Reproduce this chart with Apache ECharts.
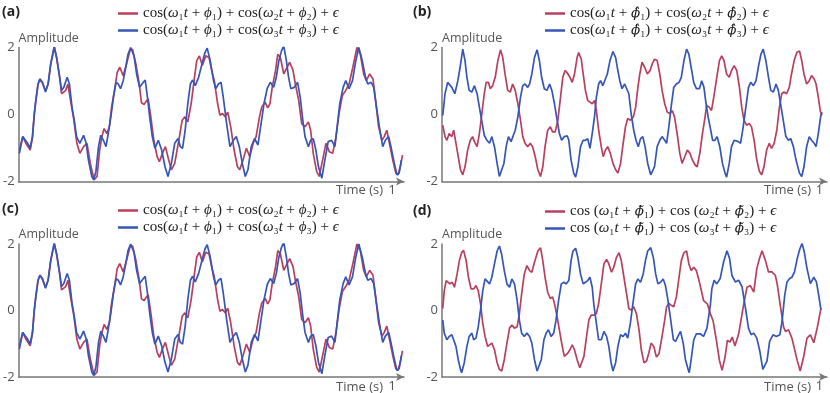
<!DOCTYPE html>
<html>
<head>
<meta charset="utf-8">
<script src="https://cdn.jsdelivr.net/npm/echarts@6/dist/echarts.min.js"></script>
<style>
html, body { margin: 0; background: #fff; }
#main { width: 830px; height: 393px; }
</style>
</head>
<body>
<div id="main"></div>
<script>
var chartDom = document.getElementById('main');
var myChart = echarts.init(chartDom);
var option;

// time in ms, amplitude
// panels (a) and (c) show the same two signals
var sigA_red = [[2,-1.06],[11,-0.66],[19,-0.85],[31,-1.06],[37,-0.7],[42,0.0],[46,0.4],[52,0.9],[57,1.06],[64,0.93],[72,0.7],[79,0.91],[86,1.5],[96,2.02],[103,1.6],[110,1.1],[115,0.62],[126,0.72],[132,0.91],[139,0.42],[148,-0.17],[156,-0.86],[164,-1.16],[174,-0.96],[183,-0.86],[192,-1.46],[202,-1.95],[210,-1.85],[217,-1.06],[223,-0.66],[229,-0.42],[236,-0.57],[243,-0.37],[249,0.22],[258,0.81],[264,1.26],[271,1.41],[280,1.16],[289,1.51],[298,1.9],[305,1.95],[314,1.51],[323,0.91],[329,0.35],[336,0.3],[340,0.37],[347,0.47],[354,-0.07],[362,-0.77],[371,-1.26],[377,-1.41],[385,-1.16],[393,-0.96],[402,-1.36],[409,-1.65],[418,-1.46],[429,-0.77],[438,-0.17],[445,-0.07],[453,-0.22],[462,0.32],[471,1.11],[477,1.61],[484,1.75],[492,1.46],[501,1.75],[510,1.7],[517,1.31],[524,1.01],[533,0.32],[539,-0.02],[546,0.03],[553,-0.07],[560,0.07],[568,-0.37],[577,-1.06],[586,-1.56],[592,-1.65],[601,-1.36],[610,-1.01],[619,-1.26],[628,-0.86],[636,-0.66],[645,-0.07],[651,0.22],[660,0.37],[667,0.2],[673,0.32],[679,0.81],[688,1.31],[694,1.8],[701,1.7],[710,1.21],[719,1.41],[726,1.56],[735,1.31],[741,0.91],[750,0.42],[758,-0.27],[767,-0.37],[776,-0.22],[782,-0.47],[789,-1.16],[798,-1.7],[805,-1.85],[814,-1.36],[823,-0.86],[832,-1.11],[841,-1.16],[850,-0.66],[858,0.03],[867,0.57],[876,0.72],[885,0.91],[895,1.41],[906,2.0],[915,1.8],[924,1.21],[931,1.01],[940,1.21],[949,1.06],[956,0.42],[964,-0.37],[973,-0.77],[979,-0.66],[986,-0.47],[993,-0.86],[1002,-1.36],[1010,-1.75],[1016,-1.8],[1022,-1.56],[1028,-1.21]];

var sigA_blue = [[2,-1.16],[11,-0.66],[24,-0.86],[31,-1.0],[37,-0.66],[42,0.03],[46,0.42],[52,0.91],[57,1.06],[64,0.96],[72,0.67],[79,0.91],[86,1.51],[95,2.02],[102,1.7],[108,1.26],[115,0.72],[121,0.81],[130,1.11],[136,0.91],[143,0.22],[149,-0.17],[155,-0.66],[164,-0.86],[174,-0.62],[181,-0.86],[187,-1.36],[196,-1.85],[201,-1.95],[207,-1.7],[214,-0.96],[220,-0.62],[227,-0.77],[234,-0.96],[240,-0.57],[247,-0.07],[254,0.52],[261,0.96],[267,0.91],[273,0.77],[280,1.01],[287,1.41],[293,1.8],[300,2.0],[309,1.75],[316,1.21],[324,0.81],[332,0.93],[339,1.03],[345,0.52],[351,-0.07],[358,-0.66],[365,-1.01],[374,-0.77],[383,-1.06],[392,-1.56],[400,-1.85],[409,-1.46],[418,-0.86],[427,-0.72],[433,-0.96],[439,-1.01],[446,-0.47],[453,0.32],[460,0.91],[466,1.03],[473,0.86],[482,1.11],[491,1.51],[499,1.85],[505,1.98],[513,1.61],[522,1.01],[528,0.77],[535,0.91],[542,0.96],[548,0.52],[557,-0.27],[566,-0.96],[575,-0.77],[583,-0.66],[591,-0.96],[599,-1.46],[607,-1.85],[614,-1.65],[623,-0.96],[632,-0.72],[641,-0.91],[648,-0.37],[657,0.32],[666,0.79],[674,0.96],[683,0.81],[690,1.11],[697,1.61],[704,1.9],[710,2.05],[717,1.61],[723,1.11],[729,0.77],[738,0.81],[747,0.96],[754,0.52],[761,-0.17],[767,-0.66],[776,-0.96],[782,-0.77],[789,-0.72],[796,-1.06],[803,-1.56],[812,-1.9],[820,-1.36],[829,-0.81],[838,-0.77],[847,-0.96],[853,-0.37],[860,0.32],[869,0.81],[876,1.01],[885,0.77],[894,1.01],[903,1.61],[911,2.0],[920,1.61],[929,1.11],[935,0.91],[944,0.96],[951,0.81],[957,0.32],[966,-0.37],[975,-0.96],[982,-0.77],[991,-0.66],[997,-0.96],[1006,-1.46],[1013,-1.8],[1019,-1.75],[1025,-1.36]];

var sigB_red = [[2,-0.32],[8,-0.66],[13,-0.77],[19,-0.57],[26,-0.66],[31,-0.47],[37,-0.86],[43,-1.26],[49,-1.65],[55,-1.8],[61,-1.56],[68,-1.06],[75,-0.77],[81,-0.66],[86,-0.81],[93,-0.96],[99,-0.57],[105,-0.03],[112,0.62],[117,0.96],[123,0.96],[128,0.77],[134,0.86],[141,1.11],[148,1.61],[155,1.93],[161,1.7],[167,1.21],[174,0.72],[181,0.67],[187,0.91],[194,0.72],[201,0.32],[208,-0.17],[214,-0.66],[220,-0.86],[227,-0.96],[234,-0.86],[240,-0.96],[247,-1.26],[254,-1.65],[261,-1.85],[267,-1.56],[273,-0.96],[280,-0.47],[287,-0.37],[293,-0.52],[300,-0.52],[307,-0.17],[314,0.52],[320,1.11],[326,1.31],[332,1.24],[339,1.11],[345,0.96],[351,1.21],[358,1.7],[362,1.85],[369,1.65],[374,1.21],[380,0.72],[386,0.42],[392,0.37],[398,0.32],[404,0.42],[409,0.12],[415,-0.47],[422,-0.96],[427,-1.26],[433,-1.06],[439,-0.96],[446,-1.16],[453,-1.46],[460,-1.65],[466,-1.75],[473,-1.46],[480,-0.86],[486,-0.37],[492,-0.12],[499,-0.17],[507,-0.07],[513,0.22],[519,0.81],[524,1.21],[530,1.56],[537,1.41],[544,1.21],[551,1.31],[557,1.51],[563,1.65],[570,1.61],[577,1.21],[583,0.72],[590,0.32],[597,0.07],[604,0.03],[610,0.12],[616,-0.07],[623,-0.57],[630,-1.16],[636,-1.46],[643,-1.26],[650,-1.06],[657,-1.16],[663,-1.35],[670,-1.5],[676,-1.56],[683,-1.16],[690,-0.57],[697,-0.07],[701,0.27],[708,0.22],[714,0.12],[720,0.52],[728,1.11],[735,1.61],[741,1.75],[747,1.61],[754,1.21],[761,1.11],[767,1.31],[774,1.46],[781,1.31],[788,0.81],[794,0.22],[800,-0.17],[807,-0.32],[814,-0.27],[820,-0.37],[827,-0.77],[834,-1.36],[841,-1.7],[847,-1.8],[853,-1.56],[860,-1.06],[867,-0.86],[873,-1.01],[880,-0.86],[887,-0.47],[894,0.22],[900,0.62],[906,0.67],[913,0.62],[920,0.81],[926,1.21],[933,1.61],[940,1.85],[947,1.9],[953,1.61],[959,1.21],[966,0.91],[973,1.01],[979,1.16],[986,1.06],[991,0.91],[997,0.52],[1002,0.12],[1006,-0.03]];

var sigB_blue = [[2,-0.03],[8,0.62],[15,0.96],[19,1.01],[26,0.81],[31,0.86],[34,0.62],[42,1.01],[48,1.41],[55,1.95],[61,1.61],[66,1.11],[72,0.72],[79,0.67],[86,0.86],[93,0.62],[99,0.22],[105,-0.17],[112,-0.62],[119,-0.77],[126,-0.86],[132,-0.66],[139,-0.96],[146,-1.46],[152,-1.85],[156,-1.9],[164,-1.46],[170,-0.96],[176,-0.66],[183,-0.81],[187,-0.77],[194,-0.47],[201,-0.07],[208,0.52],[214,0.86],[220,0.91],[227,0.81],[232,0.91],[238,1.21],[245,1.7],[252,1.93],[258,1.61],[264,1.11],[271,0.77],[278,0.72],[285,0.91],[291,0.72],[298,0.32],[305,-0.17],[311,-0.57],[317,-0.77],[324,-0.66],[332,-0.64],[336,-0.77],[342,-1.36],[349,-1.75],[354,-1.87],[360,-1.56],[367,-0.96],[374,-0.77],[380,-0.77],[386,-0.72],[392,-1.01],[398,-0.57],[404,-0.07],[409,0.52],[415,0.91],[420,1.01],[426,0.86],[431,0.81],[438,1.21],[445,1.61],[453,1.88],[460,1.7],[466,1.31],[471,1.01],[477,0.77],[484,0.91],[489,0.96],[495,0.62],[501,0.03],[508,-0.47],[514,-0.77],[520,-0.96],[526,-0.72],[532,-0.66],[538,-0.96],[545,-1.46],[553,-1.8],[557,-1.85],[563,-1.56],[570,-0.96],[577,-0.77],[583,-0.66],[590,-0.77],[595,-0.86],[601,-0.37],[607,0.22],[614,0.81],[621,0.91],[628,0.96],[634,1.11],[641,1.61],[648,1.95],[654,1.8],[660,1.41],[667,0.95],[674,0.77],[682,0.77],[688,1.01],[694,0.81],[699,0.37],[705,-0.07],[712,-0.47],[717,-0.77],[723,-0.77],[729,-0.66],[736,-0.96],[743,-1.46],[750,-1.75],[754,-1.87],[761,-1.46],[767,-0.96],[774,-0.77],[779,-0.77],[785,-0.81],[791,-0.86],[798,-0.37],[805,0.22],[812,0.81],[818,0.96],[825,0.86],[832,1.01],[838,1.41],[845,1.8],[851,1.95],[858,1.61],[865,1.11],[871,0.72],[878,0.67],[885,0.91],[891,0.72],[897,0.32],[904,-0.17],[911,-0.66],[918,-0.77],[924,-0.72],[931,-0.96],[938,-1.36],[947,-1.75],[953,-1.85],[959,-1.56],[966,-0.96],[973,-0.66],[979,-0.77],[986,-0.86],[991,-0.96],[997,-0.57],[1003,-0.07],[1007,0.07]];

var sigD_red = [[2,0.06],[6,0.6],[11,0.9],[15,0.95],[21,0.8],[27,0.85],[33,0.7],[40,1.1],[46,1.5],[52,1.74],[57,1.81],[64,1.5],[70,1.0],[77,0.65],[84,0.65],[90,0.75],[96,0.6],[102,0.21],[108,-0.39],[114,-0.78],[121,-1.08],[126,-1.13],[132,-0.98],[139,-1.18],[146,-1.57],[152,-1.77],[158,-1.82],[165,-1.48],[172,-0.98],[179,-0.53],[185,-0.44],[192,-0.53],[199,-0.49],[205,-0.09],[211,0.5],[218,1.1],[225,1.35],[232,1.2],[238,1.15],[245,1.45],[254,1.79],[261,1.89],[267,1.5],[273,1.0],[280,0.55],[287,0.36],[293,0.41],[298,0.21],[305,-0.19],[311,-0.58],[317,-0.98],[324,-1.38],[332,-1.3],[339,-1.18],[345,-1.03],[351,-1.18],[358,-1.48],[365,-1.72],[369,-1.77],[376,-1.38],[383,-0.78],[389,-0.29],[395,-0.14],[402,-0.14],[409,-0.09],[415,0.21],[422,0.8],[429,1.4],[436,1.54],[442,1.4],[449,1.15],[455,1.3],[462,1.59],[469,1.74],[475,1.5],[482,1.0],[489,0.5],[495,0.06],[501,0.01],[508,0.11],[515,-0.09],[522,-0.58],[528,-1.18],[535,-1.57],[542,-1.52],[548,-1.28],[554,-0.98],[561,-1.08],[568,-1.4],[575,-1.3],[583,-0.78],[590,-0.29],[595,0.11],[601,0.21],[607,0.16],[614,0.11],[621,0.41],[628,1.0],[634,1.5],[641,1.74],[648,1.79],[654,1.4],[660,1.2],[667,1.3],[674,1.2],[681,0.9],[693,0.3],[703,0.2],[711,-0.1],[718,-0.3],[727,-0.9],[735,-1.5],[742,-1.8],[750,-1.4],[756,-0.9],[763,-0.95],[769,-0.8],[776,-1.07],[786,-0.7],[799,0.17],[808,0.7],[817,0.75],[826,0.55],[834,1.26],[842,1.6],[848,1.8],[857,1.5],[865,1.16],[874,1.16],[883,1.06],[888,0.8],[896,0.17],[905,-0.5],[910,-0.63],[918,-0.58],[927,-0.83],[941,-1.5],[949,-1.82],[958,-1.4],[967,-0.83],[976,-0.73],[985,-0.97],[994,-0.53],[1004,0.07]];

var sigD_blue = [[2,-0.29],[6,-0.68],[13,-0.88],[19,-0.78],[26,-0.73],[31,-0.78],[37,-1.08],[43,-1.48],[49,-1.77],[52,-1.87],[59,-1.57],[66,-1.08],[72,-0.78],[79,-0.68],[84,-0.88],[90,-0.83],[96,-0.49],[102,0.01],[108,0.6],[114,0.95],[119,1.0],[126,0.8],[132,1.0],[139,1.4],[146,1.79],[152,1.94],[158,1.69],[165,1.2],[172,0.8],[179,0.7],[185,0.95],[192,0.8],[199,0.31],[205,-0.29],[211,-0.68],[218,-0.78],[225,-0.68],[232,-0.78],[238,-0.98],[245,-1.48],[252,-1.82],[255,-1.87],[263,-1.48],[270,-0.88],[276,-0.68],[282,-0.58],[289,-0.78],[296,-0.68],[302,-0.29],[309,0.31],[316,0.8],[323,0.85],[329,0.8],[336,0.9],[342,1.5],[347,1.79],[354,1.87],[360,1.59],[367,1.1],[374,0.8],[380,0.85],[386,0.9],[392,1.0],[398,0.7],[402,0.21],[409,-0.39],[415,-0.88],[422,-0.88],[429,-0.63],[436,-0.78],[442,-1.08],[448,-1.57],[453,-1.82],[460,-1.57],[466,-1.08],[473,-0.73],[480,-0.78],[486,-0.68],[492,-0.83],[499,-0.39],[507,0.31],[513,0.8],[519,0.95],[526,0.85],[533,1.1],[539,1.5],[545,1.79],[553,1.89],[560,1.59],[566,1.1],[572,0.8],[579,0.85],[586,0.95],[592,0.75],[598,0.36],[606,-0.29],[613,-0.88],[619,-0.93],[625,-0.78],[632,-0.63],[639,-0.98],[645,-1.48],[652,-1.77],[655,-1.87],[660,-1.48],[667,-0.88],[674,-0.7],[684,-0.7],[693,-0.78],[702,-0.53],[711,0.17],[715,0.66],[721,0.91],[728,0.8],[737,0.96],[746,1.46],[755,1.8],[762,1.56],[768,1.06],[777,0.86],[786,0.91],[795,0.71],[804,0.07],[812,-0.53],[819,-0.73],[826,-0.68],[834,-0.83],[842,-1.22],[850,-1.77],[854,-1.82],[861,-1.52],[868,-0.93],[877,-0.73],[886,-0.78],[895,-0.73],[901,-0.33],[908,0.46],[914,0.86],[921,0.96],[927,1.0],[934,1.16],[941,1.56],[948,1.85],[954,2.02],[960,1.75],[967,1.26],[976,0.81],[985,1.0],[992,0.86],[998,0.46],[1004,0.02]];

var legendA = ['cos(ω₁t + ϕ₁) + cos(ω₂t + ϕ₂) + ϵ', 'cos(ω₁t + ϕ₁) + cos(ω₃t + ϕ₃) + ϵ'];
var legendB = ['cos(ω₁t + ϕ̂₁) + cos(ω₂t + ϕ̂₂) + ϵ', 'cos(ω₁t + ϕ̂₁) + cos(ω₃t + ϕ̂₃) + ϵ'];
var legendD = ['cos (ω₁t + ϕ̃₁) + cos (ω₂t + ϕ̃₂) + ϵ', 'cos (ω₁t + ϕ̃₁) + cos (ω₃t + ϕ̃₃) + ϵ'];
var panelTags = ['(a)', '(b)', '(c)', '(d)'];

var RED = '#b8405e';
var BLUE = '#3556b8';
var AXIS = '#777';
var TXT = '#555';

var grids = [
    { left: 15, top: 47.5, width: 389, height: 134 },
    { left: 442, top: 47.5, width: 385, height: 134 },
    { left: 15, top: 244, width: 389, height: 134 },
    { left: 442, top: 244, width: 385, height: 134 }
];
var xMax = [1032, 1020, 1032, 1020];

function mathText(name) {
    return name
        .replace(/(ϕ[\u0302\u0303])/g, '{h|$1}')
        .replace(/(ϕ(?![\u0302\u0303])|ω|ϵ|t)/g, '{i|$1}');
}

var xAxes = grids.map(function (g, i) {
    return {
        gridIndex: i,
        type: 'value',
        min: 0,
        max: xMax[i],
        interval: 1000,
        axisLine: { show: true, onZero: false, symbol: ['none', 'arrow'], symbolSize: [6, 8], lineStyle: { color: AXIS, width: 1.5 } },
        axisTick: { show: false },
        splitLine: { show: false },
        axisLabel: {
            color: TXT, fontSize: 13.5, fontFamily: 'Open Sans', margin: 2,
            showMaxLabel: false,
            formatter: function (v) { return v === 1000 ? '1' : ''; }
        }
    };
});

var yAxes = grids.map(function (g, i) {
    return {
        gridIndex: i,
        type: 'value',
        min: -2,
        max: 2,
        interval: 2,
        name: 'Amplitude',
        nameLocation: 'end',
        nameGap: 3,
        nameTextStyle: { align: 'left', color: TXT, fontSize: 12.5, fontFamily: 'Open Sans', padding: [0, 0, 0, 0] },
        axisLine: { show: true, lineStyle: { color: AXIS, width: 1.5 } },
        axisTick: { show: false },
        splitLine: { show: false },
        axisLabel: { color: TXT, fontSize: 13, fontFamily: 'Open Sans', margin: 4 }
    };
});

var panels = [
    { names: legendA, red: sigA_red, blue: sigA_blue },
    { names: legendB, red: sigB_red, blue: sigB_blue },
    { names: legendA, red: sigA_red, blue: sigA_blue },
    { names: legendD, red: sigD_red, blue: sigD_blue }
];

var series = [];
panels.forEach(function (p, i) {
    series.push({
        type: 'line', name: p.names[0], xAxisIndex: i, yAxisIndex: i,
        data: p.red, showSymbol: false, color: RED,
        lineStyle: { color: RED, width: 1.7 }
    });
    series.push({
        type: 'line', name: p.names[1], xAxisIndex: i, yAxisIndex: i,
        data: p.blue, showSymbol: false, color: BLUE,
        lineStyle: { color: BLUE, width: 1.7 }
    });
});

var legendPos = [[118, 5], [545, 5], [118, 202], [545, 203]];
var legends = panels.map(function (p, i) {
    return {
        left: legendPos[i][0],
        top: legendPos[i][1],
        padding: 0,
        orient: 'vertical',
        icon: 'rect',
        itemWidth: 20,
        itemHeight: 2.5,
        itemGap: 0,
        selectedMode: false,
        data: p.names,
        formatter: mathText,
        textStyle: {
            fontFamily: 'Liberation Serif', fontSize: 15, color: '#222', lineHeight: 17,
            rich: {
                i: { fontFamily: 'Liberation Serif', fontStyle: 'italic', fontSize: 15, color: '#222' },
                h: { fontFamily: 'DejaVu Serif', fontStyle: 'italic', fontSize: 13.5, color: '#222' }
            }
        }
    };
});

var timeLabelPos = [[383, 190], [811, 190], [383, 387], [811, 387]];
var tagPos = [[2, 5], [413, 5], [2, 202], [413, 204]];
var graphics = [];
timeLabelPos.forEach(function (p) {
    graphics.push({
        type: 'text', right: 830 - p[0], top: p[1] - 6,
        style: { text: 'Time (s)', fill: TXT, font: '13px "Open Sans"' }
    });
});
tagPos.forEach(function (p, i) {
    graphics.push({
        type: 'text', left: p[0], top: p[1],
        style: { text: panelTags[i], fill: '#222', font: 'bold 14px "Open Sans"' }
    });
});

option = {
    animation: false,
    backgroundColor: '#fff',
    grid: grids,
    xAxis: xAxes,
    yAxis: yAxes,
    legend: legends,
    graphic: graphics,
    series: series
};

option && myChart.setOption(option);
</script>
</body>
</html>
